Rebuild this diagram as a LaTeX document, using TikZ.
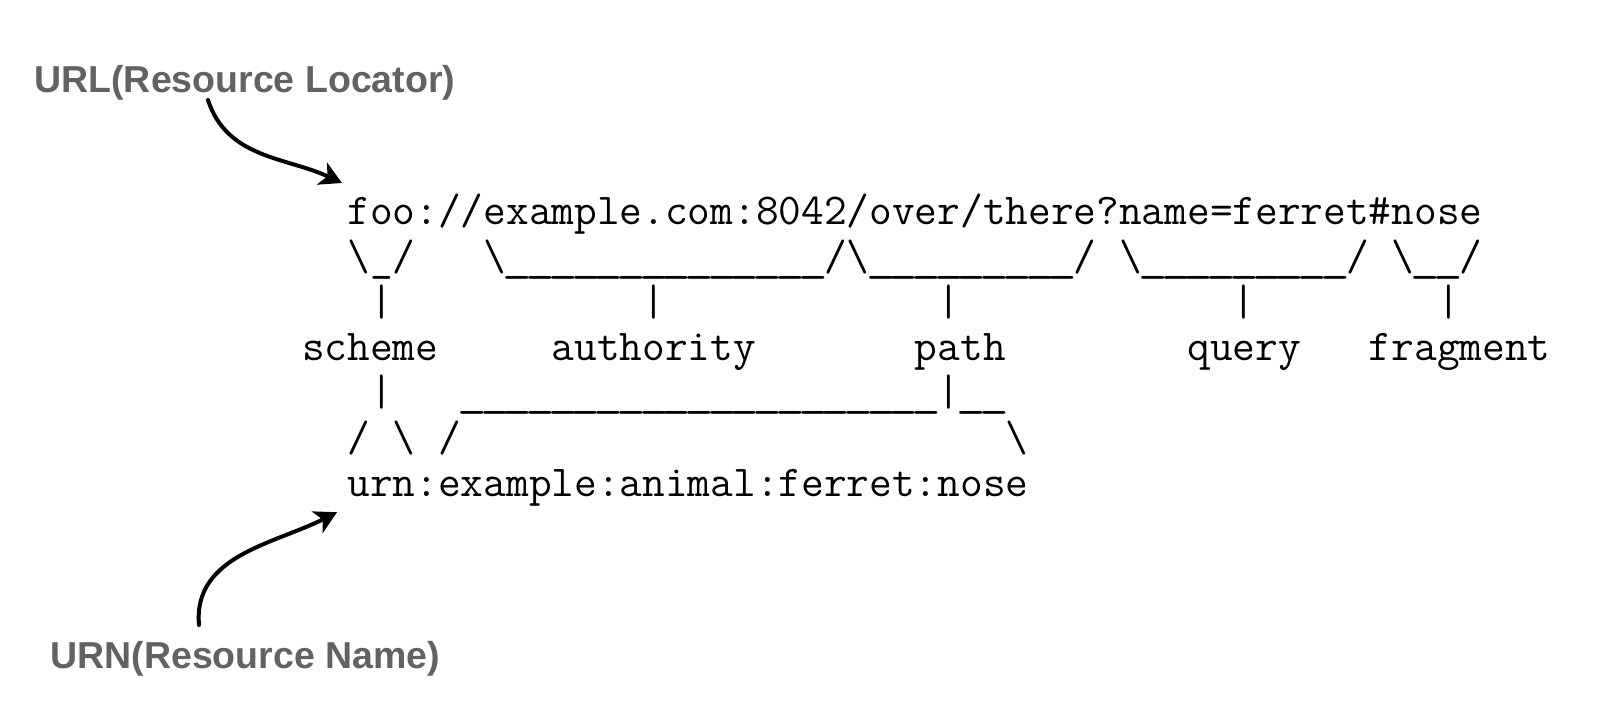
\documentclass[tikz,border=0pt]{standalone}
\usepackage{fontspec}
\usepackage{xcolor}
\usepackage{tikz}
\usetikzlibrary{arrows.meta,positioning}
\newfontfamily\labelfont{Liberation Sans}
\definecolor{labelgray}{RGB}{98,98,98}
\newlength\cellw
\newcommand\bs{\textbackslash}
\newcommand\blanks[1]{\foreach\rep in {1,...,#1}{~}}
\newcommand\unders[1]{\foreach\rep in {1,...,#1}{\makebox[11.35pt]{\scalebox{1.3}[1]{\_}}}}

\begin{document}
\settowidth\cellw{\ttfamily\fontsize{20}{24}\selectfont x}%
\pgfmathsetmacro\monosize{20*11.35/\cellw}%
\begin{tikzpicture}[x=0.5pt, y=0.5pt, >={Stealth[length=11pt,width=12pt,inset=3pt]}, every node/.style={inner sep=0pt, anchor=base west}, ascii/.style={font=\ttfamily\fontsize{\monosize}{\monosize}\selectfont}, tag/.style={font=\labelfont\bfseries\fontsize{18.75}{22}\selectfont, text=labelgray}, pointer/.style={->, line width=2pt, line cap=round}]
\useasboundingbox (0,0) rectangle (1616,724);
\node[tag] (urlname) at (34,631) {URL(Resource Locator)};
\node[tag] (urnname) at (50,56) {URN(Resource Name)};
\node[ascii] (url) at (347,499) {foo://example.com:8042/over/there?name=ferret\#nose};
\node[ascii] (urlmarks) at (347,453.8) {\bs\_/\blanks{3}\bs\unders{14}/\bs\unders{9}/~\bs\unders{9}/~\bs\unders{2}/};
\node[ascii] (urlbars) at (369.7,408.6) {|\blanks{11}|\blanks{12}|\blanks{12}|\blanks{8}|};
\node[ascii] (parts) at (301.6,363.4) {scheme\blanks{5}authority\blanks{7}path\blanks{8}query\blanks{3}fragment};
\node[ascii] (urnbars) at (369.7,318.2) {|\blanks{3}\unders{21}|\unders{2}};
\node[ascii] (urnmarks) at (347,273) {/~\bs~/\blanks{24}\bs};
\node[ascii] (urn) at (347,227.8) {urn:example:animal:ferret:nose};
\draw[pointer] ([xshift=87pt,yshift=-3.5pt]urlname.base west) to[out=-72,in=155] ([xshift=-2.5pt,yshift=21pt]url.base west);
\draw[pointer] ([xshift=74.5pt,yshift=21.5pt]urnname.base west) to[out=95,in=207] ([xshift=-5pt,yshift=-8pt]urn.base west);
\end{tikzpicture}
\end{document}
